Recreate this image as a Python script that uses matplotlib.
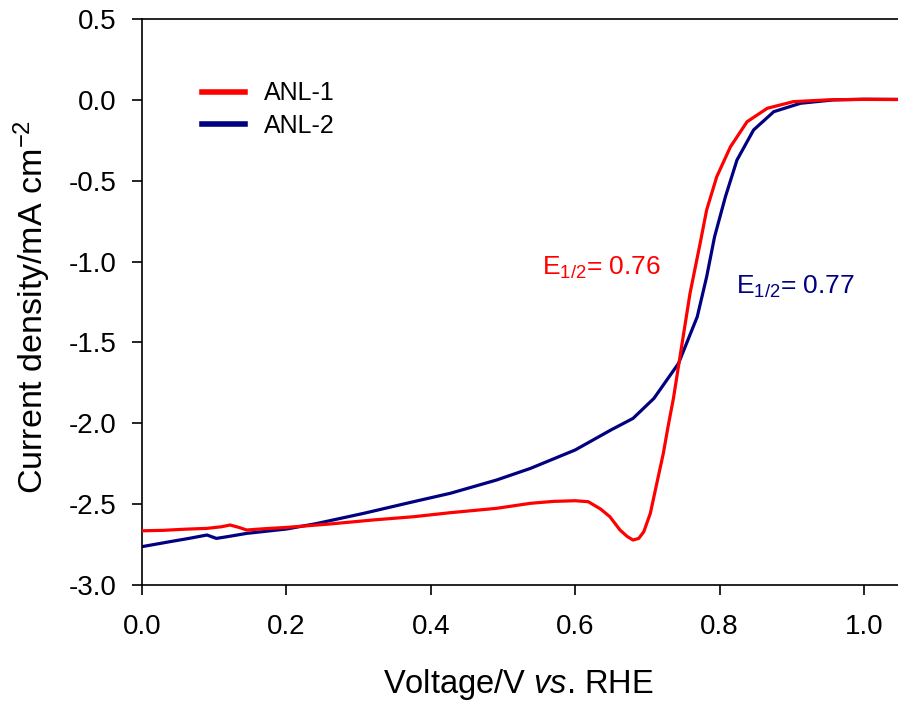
import matplotlib
matplotlib.use("Agg")
import matplotlib.pyplot as plt
import numpy as np

# ANL-1 (red) polarization curve
anl1_v = [0.000, 0.030, 0.060, 0.090, 0.110, 0.122, 0.135, 0.145, 0.170, 0.200,
          0.260, 0.320, 0.376, 0.427, 0.491, 0.538, 0.570, 0.600, 0.618, 0.635,
          0.648, 0.662, 0.672, 0.680, 0.688, 0.695, 0.704, 0.713, 0.722, 0.729,
          0.736, 0.748, 0.759, 0.773, 0.782, 0.796, 0.815, 0.838, 0.866, 0.902,
          0.950, 1.000, 1.047]
anl1_j = [-2.665, -2.662, -2.655, -2.650, -2.640, -2.629, -2.645, -2.660, -2.652, -2.644,
          -2.623, -2.598, -2.578, -2.553, -2.526, -2.495, -2.483, -2.479, -2.485, -2.530,
          -2.578, -2.660, -2.700, -2.722, -2.712, -2.670, -2.557, -2.371, -2.186, -2.010,
          -1.846, -1.506, -1.196, -0.887, -0.681, -0.475, -0.290, -0.135, -0.052, -0.011,
          0.000, 0.003, 0.002]

# ANL-2 (navy) polarization curve
anl2_v = [0.000, 0.039, 0.065, 0.090, 0.103, 0.120, 0.145, 0.200, 0.242, 0.307,
          0.376, 0.427, 0.491, 0.538, 0.600, 0.650, 0.680, 0.709, 0.743, 0.769,
          0.782, 0.793, 0.808, 0.824, 0.847, 0.875, 0.912, 0.958, 1.000, 1.046]
anl2_j = [-2.763, -2.732, -2.712, -2.691, -2.712, -2.700, -2.681, -2.654, -2.620, -2.557,
          -2.485, -2.433, -2.351, -2.279, -2.165, -2.040, -1.970, -1.846, -1.630, -1.341,
          -1.094, -0.846, -0.599, -0.372, -0.186, -0.073, -0.021, 0.000, 0.004, 0.003]

x_ticks = [0.0, 0.2, 0.4, 0.6, 0.8, 1.0]
y_ticks = [-3.0, -2.5, -2.0, -1.5, -1.0, -0.5, 0.0, 0.5]

plt.rcParams["font.family"] = ["Liberation Sans", "DejaVu Sans"]
plt.rcParams["mathtext.fontset"] = "custom"
plt.rcParams["mathtext.rm"] = "Liberation Sans"
plt.rcParams["mathtext.it"] = "Liberation Sans:italic"
plt.rcParams["axes.unicode_minus"] = False

fig = plt.figure(figsize=(8.98, 7.02), dpi=100)
ax = fig.add_axes([0.1581, 0.1667, 0.8419, 0.8062])

red = "#ff0000"
navy = "#000080"
ax.plot(anl1_v, anl1_j, color=red, lw=2.3, label="ANL-1", zorder=3)
ax.plot(anl2_v, anl2_j, color=navy, lw=2.3, label="ANL-2", zorder=2)

ax.set_xlim(0, 1.047)
ax.set_ylim(-3.0, 0.5)
ax.set_xticks(x_ticks)
ax.set_xticklabels(["%.1f" % t for t in x_ticks])
ax.set_yticks(y_ticks)
ax.set_yticklabels(["%.1f" % t for t in y_ticks])
ax.tick_params(direction="out", length=7, width=1.2, labelsize=20, pad=11)
ax.tick_params(axis="x", pad=14)
ax.spines["right"].set_visible(False)
for s in ["left", "bottom", "top"]:
    ax.spines[s].set_linewidth(1.2)

ax.set_xlabel(r"Voltage/V $\mathit{vs}$. RHE", fontsize=23.5, va="baseline")
ax.xaxis.set_label_coords(0.498, -0.190)
ax.set_ylabel(r"Current density/mA cm$^{-2}$", fontsize=24.5, va="baseline")
ax.yaxis.set_label_coords(-0.131, 0.492)

ax.text(0.554, -1.083, r"E$_{1/2}$= 0.76", color=red, fontsize=19, va="baseline")
ax.text(0.822, -1.20, r"E$_{1/2}$= 0.77", color=navy, fontsize=19, va="baseline")

ax.legend(loc="upper left", bbox_to_anchor=(0.079, 0.890), frameon=False,
          fontsize=18, handlelength=1.75, handletextpad=0.75, labelspacing=0.35,
          borderpad=0, borderaxespad=0)
for h in ax.get_legend().get_lines():
    h.set_linewidth(4)

fig.savefig("out.png", dpi=100)
